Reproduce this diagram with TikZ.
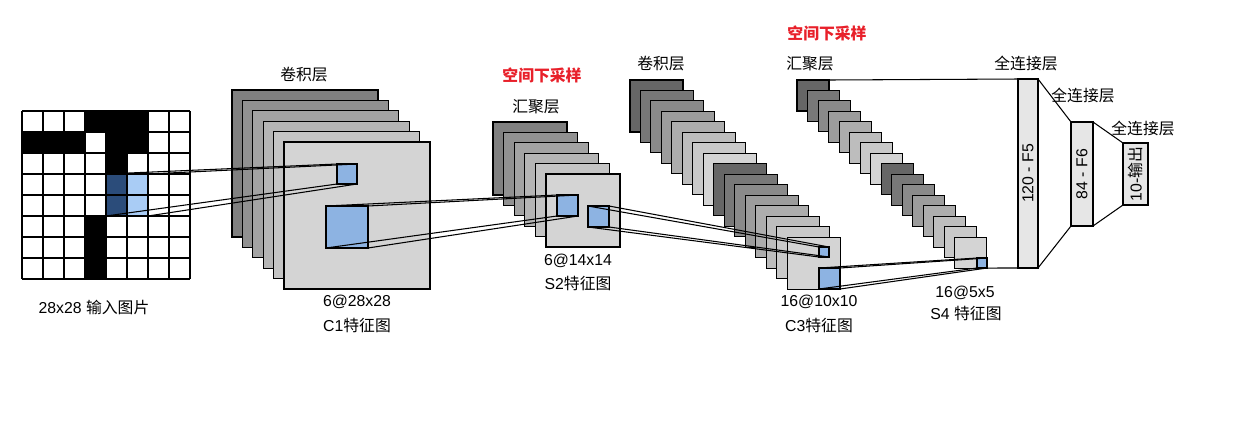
\documentclass[tikz,border=0pt]{standalone}
\usepackage{fontspec}
\setmainfont{Liberation Sans}
\newfontfamily\cjk{Noto Sans CJK SC}
\newcommand{\zh}[1]{{\cjk #1}}
\definecolor{patchblue}{HTML}{8DB3E2}
\definecolor{darkcell}{HTML}{2B4C7A}
\definecolor{lightcell}{HTML}{A9CCF5}
\definecolor{fcgray}{HTML}{E6E6E6}
\definecolor{hlred}{HTML}{E8202A}
\begin{document}
\begin{tikzpicture}[x=0.02cm, y=-0.02cm, font=\fontsize{9}{11}\selectfont,
    fmap/.style={draw, line width=0.6pt, anchor=north west, inner sep=0pt, outer sep=0pt},
    patch/.style={draw, line width=0.6pt, fill=patchblue, anchor=north west, inner sep=0pt, outer sep=0pt},
    fcbox/.style={draw, line width=0.6pt, fill=fcgray, anchor=north west, inner sep=0pt, outer sep=0pt},
    conn/.style={line width=0.6pt},
    lab/.style={inner sep=0pt}]

    \useasboundingbox (0,0) rectangle (1257,424);

    % input picture
    \foreach \c/\r in {3/0,4/0,5/0,0/1,1/1,2/1,4/1,5/1,4/2,3/5,3/6,3/7}
        \fill (22+21*\c,111+21*\r) rectangle ++(21,21);
    \fill[darkcell] (106,174) rectangle ++(21,42);
    \fill[lightcell] (127,174) rectangle ++(21,42);
    \foreach \i in {0,...,8} {
        \draw[line width=0.6pt] (22+21*\i,111) -- ++(0,168);
        \draw[line width=0.6pt] (22,111+21*\i) -- ++(168,0);
    }
    \node[anchor=north west, inner sep=0pt, outer sep=0pt, minimum size=0.84cm] (rf) at (106,174) {};

    % C1
    \foreach \i/\g in {0/50,1/43,2/36,3/29,4/23,5/17}
        \node[fmap, fill=black!\g, minimum width=2.92cm, minimum height=2.94cm] (c1-\i) at (232+10.4*\i,90+10.4*\i) {};
    % S2
    \foreach \i/\g in {0/50,1/43,2/36,3/29,4/23,5/17}
        \node[fmap, fill=black!\g, minimum width=1.48cm, minimum height=1.46cm] (s2-\i) at (493+10.6*\i,122+10.4*\i) {};
    % C3
    \foreach \i/\g in {0/60,1/53,2/46,3/39,4/32,5/26,6/21,7/17,8/60,9/53,10/46,11/39,12/32,13/26,14/21,15/17}
        \node[fmap, fill=black!\g, minimum width=1.06cm, minimum height=1.04cm] (c3-\i) at (630+10.47*\i,80+10.47*\i) {};
    % S4
    \foreach \i/\g in {0/60,1/53,2/46,3/39,4/32,5/26,6/21,7/17,8/60,9/53,10/46,11/39,12/32,13/26,14/21,15/17}
        \node[fmap, fill=black!\g, minimum width=0.64cm, minimum height=0.62cm] (s4-\i) at (797+10.53*\i,80+10.47*\i) {};

    % receptive fields
    \node[patch, minimum size=0.4cm] (c1s) at (337,164) {};
    \node[patch, minimum size=0.84cm] (c1b) at (326,206) {};
    \node[patch, minimum size=0.42cm] (s2a) at (557,195) {};
    \node[patch, minimum size=0.42cm] (s2b) at (588,206) {};
    \node[patch, minimum size=0.2cm] (c3s) at (819,247) {};
    \node[patch, minimum size=0.42cm] (c3b) at (819,268) {};
    \node[patch, minimum size=0.2cm] (s4p) at (977,258) {};

    % full connection
    \node[fcbox, minimum width=0.4cm, minimum height=3.78cm] (f5) at (1018,79) {};
    \node[fcbox, minimum width=0.44cm, minimum height=2.08cm] (f6) at (1071,122) {};
    \node[fcbox, minimum width=0.5cm, minimum height=1.24cm] (out) at (1123,143) {};
    \node[lab, rotate=90] (f5-t) at (f5.center) {120 - F5};
    \node[lab, rotate=90] (f6-t) at (f6.center) {84 - F6};
    \node[lab, rotate=90] (out-t) at (out.center) {10-\zh{输出}};

    \foreach \a in {north west,north east,south west,south east} {
        \draw[conn] (rf.\a) -- (c1s.\a);
        \draw[conn] (c1b.\a) -- (s2a.\a);
        \draw[conn] (s2b.\a) -- (c3s.\a);
        \draw[conn] (c3b.\a) -- (s4p.\a);
    }
    \draw[conn] (s4-0.north east) -- (f5.north west);
    \draw[conn] (s4-15.south east) -- (f5.south west);
    \draw[conn] (f5.north east) -- (f6.north west);
    \draw[conn] (f5.south east) -- (f6.south west);
    \draw[conn] (f6.north east) -- (out.north west);
    \draw[conn] (f6.south east) -- (out.south west);

    % labels
    \node[lab] (in-lab) at (94,307) {28x28 \zh{输入图片}};
    \node[lab] (c1-top) at (304,75) {\zh{卷积层}};
    \node[lab] (c1-lab) at (357,302) {6@28x28};
    \node[lab] (c1-name) at (357,325) {C1\zh{特征图}};
    \node[lab, text=hlred] (s2-red) at (542,75) {\zh{\bfseries 空间下采样}};
    \node[lab] (s2-top) at (536,107) {\zh{汇聚层}};
    \node[lab] (s2-lab) at (578,261) {6@14x14};
    \node[lab] (s2-name) at (578,283) {S2\zh{特征图}};
    \node[lab] (c3-top) at (661,64) {\zh{卷积层}};
    \node[lab] (c3-lab) at (819,302) {16@10x10};
    \node[lab] (c3-name) at (819,325) {C3\zh{特征图}};
    \node[lab, text=hlred] (s4-red) at (827,33) {\zh{\bfseries 空间下采样}};
    \node[lab] (s4-top) at (810,64) {\zh{汇聚层}};
    \node[lab] (s4-lab) at (965,293) {16@5x5};
    \node[lab] (s4-name) at (966,313) {S4 \zh{特征图}};
    \node[lab] (f5-top) at (1026,63) {\zh{全连接层}};
    \node[lab] (f6-top) at (1083,95) {\zh{全连接层}};
    \node[lab] (out-top) at (1143,128) {\zh{全连接层}};
\end{tikzpicture}
\end{document}
